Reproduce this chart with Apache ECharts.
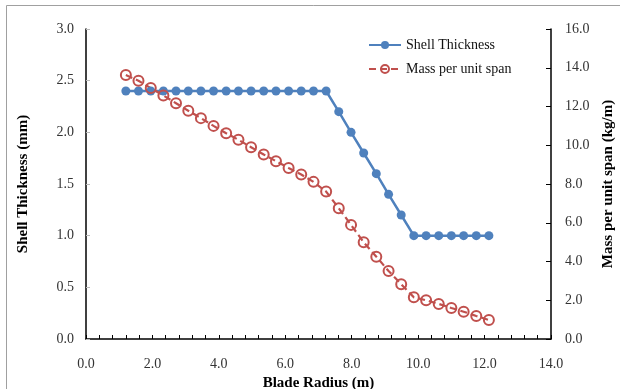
<!DOCTYPE html>
<html>
<head>
<meta charset="utf-8">
<script src="https://cdn.jsdelivr.net/npm/echarts@6/dist/echarts.min.js"></script>
<style>
html,body{margin:0;padding:0;background:#fff;}
#c{width:620px;height:389px;}
</style>
</head>
<body>
<div id="c"></div>
<script>
var radius = [1.2, 1.58, 1.95, 2.33, 2.71, 3.08, 3.46, 3.84, 4.22, 4.59, 4.97, 5.35, 5.72, 6.1, 6.48, 6.85, 7.23, 7.61, 7.98, 8.36, 8.74, 9.11, 9.49, 9.87, 10.24, 10.62, 11.0, 11.37, 11.75, 12.13];
var shellThickness = [2.4, 2.4, 2.4, 2.4, 2.4, 2.4, 2.4, 2.4, 2.4, 2.4, 2.4, 2.4, 2.4, 2.4, 2.4, 2.4, 2.4, 2.2, 2.0, 1.8, 1.6, 1.4, 1.2, 1.0, 1.0, 1.0, 1.0, 1.0, 1.0, 1.0];
var massPerSpan = [13.62, 13.33, 12.95, 12.57, 12.17, 11.78, 11.40, 11.00, 10.62, 10.28, 9.90, 9.52, 9.18, 8.83, 8.49, 8.11, 7.61, 6.75, 5.89, 4.99, 4.25, 3.51, 2.83, 2.15, 2.00, 1.81, 1.60, 1.41, 1.19, 0.98];
var seriesNames = ['Shell Thickness', 'Mass per unit span'];
var xTitle = 'Blade Radius (m)';
var yLeftTitle = 'Shell Thickness (mm)';
var yRightTitle = 'Mass per unit span (kg/m)';

function pairs(xs, ys){ return xs.map(function(x,i){ return [x, ys[i]]; }); }

var font = '"Liberation Serif","Times New Roman",serif';
var chart = echarts.init(document.getElementById('c'), null, {renderer:'canvas'});
chart.setOption({
  animation:false,
  backgroundColor:'#fff',
  graphic:[{type:'rect', shape:{x:6.5,y:5.5,width:700,height:500}, style:{fill:null, stroke:'#a0a0a0', lineWidth:1}, silent:true, z:-1}],
  grid:{left:86, right:69, top:29, bottom:50, containLabel:false, outerBoundsMode:'none'},
  legend:{
    orient:'vertical', left:368, top:38, padding:0, itemWidth:32, itemHeight:10, itemGap:10,
    textStyle:{fontFamily:font, fontSize:14, color:'#111'},
    data:seriesNames
  },
  xAxis:{
    type:'value', min:0, max:14, interval:2,
    name:xTitle, nameLocation:'middle', nameGap:33,
    nameTextStyle:{fontFamily:font, fontSize:15, fontWeight:'bold', color:'#000'},
    axisLine:{lineStyle:{color:'#000', width:1.5}},
    axisTick:{inside:true, length:4, lineStyle:{color:'#000'}},
    minorTick:{show:true, splitNumber:5, length:4, lineStyle:{color:'#000'}},
    axisLabel:{fontFamily:font, fontSize:14, color:'#333', margin:18, formatter:function(v){return v.toFixed(1);}},
    splitLine:{show:false}
  },
  yAxis:[{
    type:'value', min:0, max:3, interval:0.5, position:'left',
    name:yLeftTitle, nameLocation:'middle', nameGap:55, nameRotate:90,
    nameTextStyle:{fontFamily:font, fontSize:15, fontWeight:'bold', color:'#000'},
    axisLine:{show:true, lineStyle:{color:'#000', width:1.5}},
    axisTick:{show:true, inside:true, length:4, lineStyle:{color:'#bbb'}},
    axisLabel:{fontFamily:font, fontSize:14, color:'#333', margin:12, formatter:function(v){return v.toFixed(1);}},
    splitLine:{show:false}
  },{
    type:'value', min:0, max:16, interval:2, position:'right',
    name:yRightTitle, nameLocation:'middle', nameGap:50, nameRotate:90,
    nameTextStyle:{fontFamily:font, fontSize:15, fontWeight:'bold', color:'#000'},
    axisLine:{show:true, lineStyle:{color:'#000', width:1.5}},
    axisTick:{show:true, inside:true, length:5, lineStyle:{color:'#000'}},
    axisLabel:{fontFamily:font, fontSize:14, color:'#333', margin:14, formatter:function(v){return v.toFixed(1);}},
    splitLine:{show:false}
  }],
  series:[{
    name:seriesNames[0], type:'line', yAxisIndex:0,
    data:pairs(radius, shellThickness),
    symbol:'circle', symbolSize:9,
    lineStyle:{color:'#4F81BD', width:2.5},
    itemStyle:{color:'#4F81BD'}
  },{
    name:seriesNames[1], type:'line', yAxisIndex:1,
    data:pairs(radius, massPerSpan),
    symbol:'circle', symbolSize:10,
    lineStyle:{color:'#C0504D', width:2.2, type:[7,4]},
    itemStyle:{color:'rgba(255,255,255,0)', borderColor:'#C0504D', borderWidth:2}
  }]
});
</script>
</body>
</html>
